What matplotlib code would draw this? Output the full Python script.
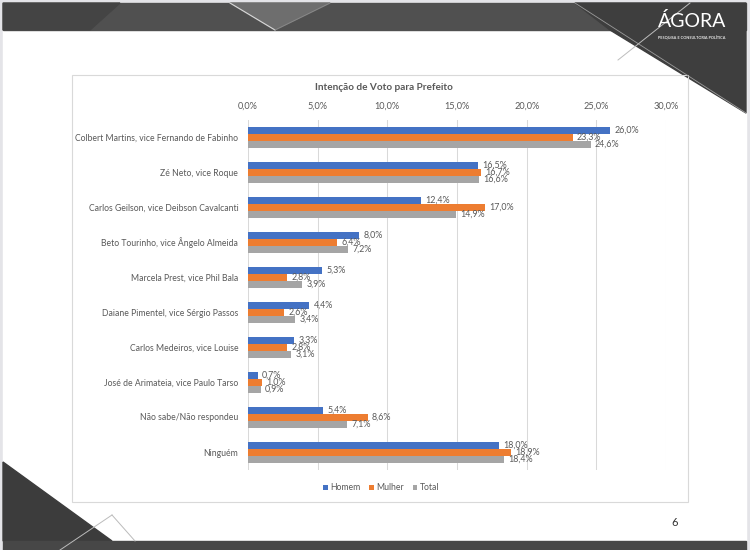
import matplotlib.pyplot as plt
from matplotlib.patches import Polygon, Rectangle

plt.rcParams['font.family'] = ['Lato', 'DejaVu Sans']

categories = ['Colbert Martins, vice Fernando de Fabinho', 'Zé Neto, vice Roque',
              'Carlos Geilson, vice Deibson Cavalcanti', 'Beto Tourinho, vice Ângelo Almeida',
              'Marcela Prest, vice Phil Bala', 'Daiane Pimentel, vice Sérgio Passos',
              'Carlos Medeiros, vice Louise', 'José de Arimateia, vice Paulo Tarso',
              'Não sabe/Não respondeu', 'Ninguém']
homem = [26.0, 16.5, 12.4, 8.0, 5.3, 4.4, 3.3, 0.7, 5.4, 18.0]
mulher = [23.3, 16.7, 17.0, 6.4, 2.8, 2.6, 2.8, 1.0, 8.6, 18.9]
total = [24.6, 16.6, 14.9, 7.2, 3.9, 3.4, 3.1, 0.9, 7.1, 18.4]
series = ['Homem', 'Mulher', 'Total']
colors = ['#4472C4', '#ED7D31', '#A5A5A5']
xticks = [0, 5, 10, 15, 20, 25, 30]

txt = '#595959'

fig = plt.figure(figsize=(7.5, 5.5), dpi=100)

# slide background, drawn in pixel coords
bg = fig.add_axes([0, 0, 1, 1], zorder=0)
bg.set_xlim(0, 750)
bg.set_ylim(550, 0)
bg.axis('off')
bg.add_patch(Rectangle((0, 0), 750, 550, color='#e4e4e8'))
bg.add_patch(Rectangle((3, 3), 743, 544, color='white'))
# top banner
bg.add_patch(Rectangle((3, 3), 743, 27, color='#505050'))
bg.add_patch(Polygon([(230, 3), (330, 3), (275, 30)], color='#6e6e6e'))
bg.add_patch(Polygon([(3, 3), (120, 3), (90, 30), (3, 30)], color='#444444'))
bg.add_patch(Polygon([(575, 3), (746, 3), (746, 113), (610, 30)], color='#3e3e3e'))
bg.plot([230, 275], [3, 30], color='#d8d8d8', lw=0.8)
bg.plot([330, 275], [3, 30], color='#8a8a8a', lw=0.6)
bg.plot([575, 746], [3, 113], color='#9a9a9a', lw=0.6)
bg.plot([690, 618], [3, 60], color='#bdbdbd', lw=0.7)
bg.text(692, 21, 'ÁGORA', ha='center', va='center', fontsize=14, color='white')
bg.text(692, 38, 'PESQUISA E CONSULTORIA POLÍTICA', ha='center', va='center',
        fontsize=2.8, color='#e8e8e8', fontweight='bold')
# bottom decorations
bg.add_patch(Polygon([(3, 462), (112, 541), (3, 541)], color='#3c3c3c'))
bg.add_patch(Rectangle((3, 541), 743, 9, color='#474747'))
bg.plot([60, 112], [550, 515], color='#bbbbbb', lw=0.7)
bg.plot([112, 135], [515, 541], color='#bbbbbb', lw=0.7)
bg.text(675, 523, '6', ha='center', va='center', fontsize=8, color='#333333')
# chart frame and title
bg.add_patch(Rectangle((72, 75), 616, 427, fill=False, ec='#d9d9d9', lw=0.8))
bg.text(384, 88, 'Intenção de Voto para Prefeito', ha='center', va='center',
        fontsize=7.2, fontweight='bold', color=txt)

# chart
ax = fig.add_axes([248 / 750, 1 - 469.5 / 550, 418 / 750, 350 / 550], zorder=1)
ax.set_facecolor('none')
h = 0.2
for k, (vals, name, c) in enumerate(zip([homem, mulher, total], series, colors)):
    ys = [i + (k - 1) * h for i in range(len(categories))]
    ax.barh(ys, vals, height=h, color=c, label=name, zorder=2)
    for y, v in zip(ys, vals):
        ax.text(v + 0.3, y, f'{v:.1f}'.replace('.', ',') + '%', va='center', ha='left',
                fontsize=6.4, color=txt, zorder=3)

ax.set_xlim(0, 30)
ax.set_ylim(len(categories) - 0.5, -0.5)
ax.set_xticks(xticks)
ax.set_xticklabels([f'{t:.1f}'.replace('.', ',') + '%' for t in xticks])
ax.xaxis.tick_top()
ax.set_yticks(range(len(categories)))
ax.set_yticklabels(categories)
ax.tick_params(axis='x', length=0, pad=6, labelsize=6.6, labelcolor=txt)
ax.tick_params(axis='y', length=0, pad=7, labelsize=6.2, labelcolor=txt)
ax.grid(axis='x', color='#d9d9d9', lw=0.75, zorder=0)
for s in ax.spines.values():
    s.set_visible(False)

leg = ax.legend(loc='center', bbox_to_anchor=(381 / 750, 1 - 488 / 550),
                bbox_transform=fig.transFigure, ncol=3, frameon=False, fontsize=6.2,
                handlelength=0.55, handleheight=0.55, handletextpad=0.3, columnspacing=1.0)
for t in leg.get_texts():
    t.set_color(txt)

fig.savefig('out.png', dpi=100)
